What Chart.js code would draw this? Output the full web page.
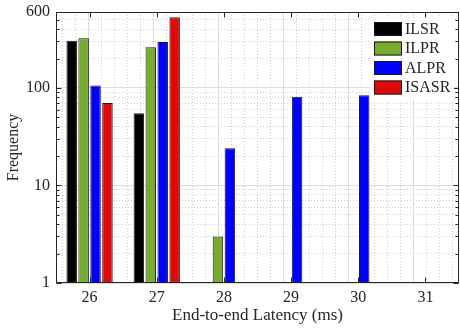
<!DOCTYPE html>
<html>
<head>
<meta charset="utf-8">
<script src="https://cdn.jsdelivr.net/npm/chart.js@4.4.1/dist/chart.umd.min.js"></script>
<style>
html, body { margin: 0; padding: 0; background: #fff; }
#wrap { width: 460px; height: 330px; }
</style>
</head>
<body>
<div id="wrap"><canvas id="myChart"></canvas></div>
<script>
// latency bins (ms) and frequency per scheme
var latency = ['26', '27', '28', '29', '30', '31'];
var ilsr  = [305, 55, null, null, null, null];
var ilpr  = [322, 261, 3, null, null, null];
var alpr  = [106, 295, 24, 81, 84, null];
var isasr = [70, 529, null, null, null, null];

var yTicks = [1, 2, 3, 4, 5, 6, 7, 8, 9, 10, 20, 30, 40, 50, 60, 70, 80, 90, 100, 200, 300, 400, 500, 600];
var yLabels = [1, 10, 100, 600];
var yMajor = [1, 10, 100];

var FONT = "'Liberation Serif', 'Times New Roman', serif";
var INK = '#262626';

function isInt(v) { return Math.abs(v - Math.round(v)) < 1e-6; }
function tickVal(c) { return c && c.tick ? c.tick.value : NaN; }
function noPad(s) { s.paddingTop = 0; s.paddingBottom = 0; s.paddingLeft = 0; s.paddingRight = 0; }

// box, inward tick marks and legend drawn on top of the bars
var framePlugin = {
    id: 'frame',
    afterDatasetsDraw: function(chart) {
        var c = chart.ctx, a = chart.chartArea;
        var L = Math.round(a.left) + 0.5, R = Math.round(a.right) - 0.5;
        var T = Math.round(a.top) + 0.5, B = Math.round(a.bottom) - 0.5;
        c.save();
        c.strokeStyle = INK;
        c.lineWidth = 1;
        c.beginPath();
        var ys = chart.scales.y;
        ys.ticks.forEach(function(t) {
            var py = Math.round(ys.getPixelForValue(t.value)) + 0.5;
            var len = yMajor.indexOf(t.value) >= 0 ? 5 : 3;
            c.moveTo(L, py); c.lineTo(L + len, py);
            c.moveTo(R, py); c.lineTo(R - len, py);
        });
        var xs = chart.scales.x;
        latency.forEach(function(l, i) {
            var px = Math.round(xs.getPixelForValue(i)) + 0.5;
            c.moveTo(px, B); c.lineTo(px, B - 5);
            c.moveTo(px, T); c.lineTo(px, T + 5);
        });
        c.stroke();
        c.strokeRect(L, T, R - L, B - T);

        // legend
        var ds = chart.data.datasets;
        var bx = a.right - 89, by = a.top + 6, rowH = 19.5;
        c.fillStyle = '#fff';
        c.fillRect(bx, by, 84, rowH * ds.length + 4);
        c.font = '16px ' + FONT;
        c.textBaseline = 'middle';
        ds.forEach(function(d, i) {
            var sy = by + 4 + i * rowH;
            c.fillStyle = d.backgroundColor;
            c.fillRect(bx + 4, sy, 28, 14);
            c.strokeStyle = '#1a1a1a';
            c.strokeRect(bx + 4.5, sy + 0.5, 27, 13);
            c.fillStyle = INK;
            c.fillText(d.label, bx + 35, sy + 7.5);
        });
        c.restore();
    }
};

var ctx = document.getElementById('myChart');

function bars(label, data, color) {
    return {
        label: label,
        data: data,
        backgroundColor: color,
        borderColor: '#1a1a1a',
        borderWidth: 1,
        borderSkipped: 'start',
        categoryPercentage: 0.71,
        barPercentage: 0.88
    };
}

new Chart(ctx, {
    type: 'bar',
    data: {
        labels: latency,
        datasets: [
            bars('ILSR', ilsr, '#000000'),
            bars('ILPR', ilpr, '#77AC30'),
            bars('ALPR', alpr, '#0000FF'),
            bars('ISASR', isasr, '#DE0A0A')
        ]
    },
    plugins: [framePlugin],
    options: {
        responsive: true,
        maintainAspectRatio: false,
        animation: false,
        layout: { padding: { top: 12, right: 1, left: 0, bottom: 0 } },
        plugins: {
            legend: { display: false },
            tooltip: { enabled: false }
        },
        scales: {
            x: {
                type: 'category',
                offset: true,
                grid: { display: false, drawTicks: false },
                border: { display: false },
                ticks: { color: INK, font: { family: FONT, size: 16 }, padding: 5, maxRotation: 0 },
                title: {
                    display: true,
                    text: 'End-to-end Latency (ms)',
                    color: INK,
                    font: { family: FONT, size: 17 },
                    padding: { top: 0, bottom: 4 }
                },
                afterFit: function(s) { s.height = 47; noPad(s); }
            },
            xm: {
                type: 'linear',
                position: 'top',
                min: 25.5,
                max: 31.5,
                afterBuildTicks: function(s) {
                    var t = [];
                    for (var i = 0; i < 30; i++) t.push({ value: (256 + 2 * i) / 10 });
                    s.ticks = t;
                },
                ticks: { display: false },
                grid: {
                    drawTicks: false,
                    color: function(c) { return isInt(tickVal(c)) ? '#dcdcdc' : '#cfcfcf'; }
                },
                border: {
                    display: false,
                    dash: function(c) { return isInt(tickVal(c)) ? [] : [1, 2]; }
                },
                afterFit: function(s) { s.height = 0; noPad(s); }
            },
            y: {
                type: 'logarithmic',
                min: 1,
                max: 600,
                afterBuildTicks: function(s) {
                    s.ticks = yTicks.map(function(v) { return { value: v }; });
                },
                ticks: {
                    autoSkip: false,
                    color: INK,
                    font: { family: FONT, size: 16 },
                    padding: 6,
                    callback: function(v) { return yLabels.indexOf(v) >= 0 ? String(v) : ''; }
                },
                grid: {
                    drawTicks: false,
                    color: function(c) { return yMajor.indexOf(tickVal(c)) >= 0 ? '#dcdcdc' : '#cfcfcf'; }
                },
                border: {
                    display: false,
                    dash: function(c) { return yMajor.indexOf(tickVal(c)) >= 0 ? [] : [1, 2]; }
                },
                title: {
                    display: true,
                    text: 'Frequency',
                    color: INK,
                    font: { family: FONT, size: 16 },
                    padding: { top: 4, bottom: 0 }
                },
                afterFit: function(s) { s.width = 56; noPad(s); }
            }
        }
    }
});
</script>
</body>
</html>
